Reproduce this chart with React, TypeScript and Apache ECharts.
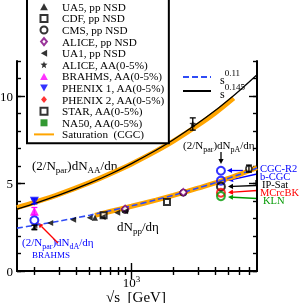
import React, { useEffect, useRef } from 'react';
import * as echarts from 'echarts';

const FONT = "'Liberation Serif', 'Times New Roman', serif";

// ---- data (sqrt(s) in GeV, values per participant pair) ----
const satAAS = [150, 200, 300, 500, 700, 1000, 1500, 2000, 3000, 4000, 5430];
const satAAY = [3.62, 3.92, 4.38, 5.05, 5.55, 6.12, 6.85, 7.42, 8.33, 9.03, 9.88];
const satPPS = [546, 700, 1000, 1500, 2000, 3000, 4000, 5000, 6000, 8000];
const satPPY = [3.18, 3.4, 3.7, 4.05, 4.32, 4.73, 5.03, 5.3, 5.52, 5.9];
const fitS = [150, 200, 300, 500, 700, 1000, 1500, 2000, 3000, 4000, 5000, 6000, 8000];
const fit011Y = [2.45, 2.61, 2.85, 3.19, 3.44, 3.72, 4.07, 4.33, 4.74, 5.04, 5.3, 5.52, 5.88];
const fit0145Y = [3.54, 3.85, 4.33, 5.02, 5.53, 6.14, 6.9, 7.5, 8.44, 9.17, 9.79, 10.32, 11.22];

const ua5S = [200, 546, 900];
const ua5Y = [2.48, 3.05, 3.5];
const cdfS = [630, 1800];
const cdfY = [3.18, 3.94];
const cmsS = [900, 2360, 7000];
const cmsY = [3.48, 4.47, 5.85];
const alicePPS = [900, 2360];
const alicePPY = [3.55, 4.5];
const ua1S = [200, 260, 380, 500, 620, 790, 900];
const ua1Y = [2.62, 2.75, 2.93, 3.04, 3.08, 3.33, 3.42];
const aliceAAS = [2760];
const aliceAAY = [8.4];
const brahmsAAS = [200];
const brahmsAAY = [3.42];
const phenix1S = [200];
const phenix1Y = [3.98];
const phenix2S: number[] = [];
const phenix2Y: number[] = [];
const starS: number[] = [];
const starY: number[] = [];
const na50S: number[] = [];
const na50Y: number[] = [];
const dABrahmsS = [200];
const dABrahmsY = [2.9];

const predS = 4400;
const predNames = ['CGC-R2', 'b-CGC', 'IP-Sat', 'MCrcBK', 'KLN'];
const predY = [5.73, 5.16, 4.82, 4.47, 4.28];

const errS = [200, 200, 200, 2760, 7000];
const errY = [3.98, 3.42, 2.5, 8.4, 5.85];
const errD = [0.14, 0.21, 0.12, 0.35, 0.2];

const minorXTicks = [200, 300, 400, 500, 600, 700, 800, 900, 2000, 3000, 4000, 5000, 6000, 7000];
const majorXTicks = [1000];
const yMajor = [0, 5, 10];

// ---- styles ----
const predColors = ['#0000ff', '#0000ff', '#000000', '#ff0000', '#009900'];
const errColors = ['#0000ff', '#ff00ff', '#000000', '#000000', '#000000'];
const ORANGE = '#ffa500';

const lg = (v: number) => Math.log10(v);
const pts = (xs: number[], ys: number[]) => xs.map((x, i) => [lg(x), ys[i]]);

const STAR_PATH = 'path://M5,0L6.3,3.3L10,3.6L7.1,6L8.1,10L5,7.8L1.9,10L2.9,6L0,3.6L3.7,3.3Z';
const LEFT_TRI = 'path://M0,5L9,0L9,10Z';
const DOWN_TRI = 'path://M0,0L10,0L5,9Z';
const UP_TRI = 'path://M5,0L10,9L0,9Z';
const RECT = 'path://M0,0L10,0L10,10L0,10Z';
const DIAMOND = 'path://M5,0L10,6L5,12L0,6Z';
const CIRCLE = 'path://M10,5A5,5,0,1,1,0,5A5,5,0,1,1,10,5Z';

function arrow(x1: number, y1: number, x2: number, y2: number, color: string) {
  const dx = x2 - x1, dy = y2 - y1;
  const L = Math.sqrt(dx * dx + dy * dy);
  const ux = dx / L, uy = dy / L;
  const hl = 5, hw = 2.6;
  const bx = x2 - ux * hl, by = y2 - uy * hl;
  return {
    type: 'group',
    children: [
      { type: 'line', shape: { x1, y1, x2: bx, y2: by }, style: { stroke: color, lineWidth: 1.3 } },
      {
        type: 'polygon',
        shape: { points: [[x2, y2], [bx - uy * hw, by + ux * hw], [bx + uy * hw, by - ux * hw]] },
        style: { fill: color },
      },
    ],
  };
}

function subText(x: number, y: number, parts: [string, boolean][], size: number, sub: number, color: string) {
  const text = parts.map(([t, s]) => (s ? `{b|${t}}` : `{n|${t}}`)).join('');
  return {
    type: 'text',
    x,
    y,
    style: {
      text,
      fill: color,
      rich: {
        n: { fontSize: size, fontFamily: FONT, verticalAlign: 'top', fill: color },
        b: { fontSize: sub, fontFamily: FONT, verticalAlign: 'bottom', lineHeight: size + 3, fill: color },
      },
    },
  };
}

export default function App() {
  const ref = useRef<HTMLDivElement>(null);
  useEffect(() => {
    const chart = echarts.init(ref.current!, null, { renderer: 'svg' });
    const xr = { min: lg(150), max: lg(8000) };
    const lineAx = { show: true, lineStyle: { color: '#000', width: 2 } };
    const minorTick = { show: true, inside: true, length: 4, customValues: minorXTicks.map(lg), lineStyle: { color: '#000', width: 1.4 } };
    const majorTick = { show: true, inside: true, length: 8, customValues: majorXTicks.map(lg), lineStyle: { color: '#000', width: 1.4 } };
    const xAxes = [
      {
        type: 'value', position: 'bottom', ...xr, axisLine: lineAx, axisTick: minorTick, splitLine: { show: false },
        axisLabel: {
          customValues: majorXTicks.map(lg), margin: 3, formatter: () => '{b|10}{p|3}',
          rich: {
            b: { fontSize: 13, fontFamily: FONT, color: '#000', verticalAlign: 'bottom', lineHeight: 15 },
            p: { fontSize: 9, fontFamily: FONT, color: '#000', verticalAlign: 'top' },
          },
        },
      },
      { type: 'value', position: 'bottom', ...xr, axisLine: { show: false }, axisTick: majorTick, axisLabel: { show: false }, splitLine: { show: false } },
      { type: 'value', position: 'top', ...xr, axisLine: lineAx, axisTick: minorTick, axisLabel: { show: false }, splitLine: { show: false } },
      { type: 'value', position: 'top', ...xr, axisLine: { show: false }, axisTick: majorTick, axisLabel: { show: false }, splitLine: { show: false } },
    ];
    const yr = { min: 0, max: 12 };
    const yMinorTick = { show: true, inside: true, length: 4, lineStyle: { color: '#000', width: 1.4 } };
    const yMajorTick = { show: true, inside: true, length: 8, customValues: yMajor, lineStyle: { color: '#000', width: 1.4 } };
    const yAxes = [
      {
        type: 'value', position: 'left', ...yr, interval: 1, axisLine: lineAx, axisTick: yMinorTick, splitLine: { show: false },
        axisLabel: { customValues: yMajor, fontSize: 13, fontFamily: FONT, color: '#000', margin: 4 },
      },
      { type: 'value', position: 'left', ...yr, axisLine: { show: false }, axisTick: yMajorTick, axisLabel: { show: false }, splitLine: { show: false } },
      { type: 'value', position: 'right', ...yr, interval: 1, axisLine: lineAx, axisTick: yMinorTick, axisLabel: { show: false }, splitLine: { show: false } },
      { type: 'value', position: 'right', ...yr, axisLine: { show: false }, axisTick: yMajorTick, axisLabel: { show: false }, splitLine: { show: false } },
    ];

    const scatter = (name: string, xs: number[], ys: number[], symbol: string, size: number, itemStyle: any, z = 4) => ({
      name, type: 'scatter', data: pts(xs, ys), symbol, symbolSize: size, itemStyle, z,
    });

    const hideSym = { opacity: 0 };
    const legendNames = [
      'UA5, pp NSD', 'CDF, pp NSD', 'CMS, pp NSD', 'ALICE, pp NSD', 'UA1, pp NSD', 'ALICE, AA(0-5%)',
      'BRAHMS, AA(0-5%)', 'PHENIX 1, AA(0-5%)', 'PHENIX 2, AA(0-5%)', 'STAR, AA(0-5%)', 'NA50, AA(0-5%)',
    ];

    const option: any = {
      animation: false,
      grid: { left: 17, right: 43, top: 61, bottom: 32, outerBoundsMode: 'none' },
      xAxis: xAxes,
      yAxis: yAxes,
      legend: [
        {
          orient: 'vertical', left: 27, top: -3, itemWidth: 20, itemHeight: 7, itemGap: 0,
          padding: [4, 4, 3, 6], backgroundColor: '#fff', borderColor: '#000', borderWidth: 2,
          selectedMode: false, z: 10,
          textStyle: { fontFamily: FONT, fontSize: 11.2, lineHeight: 11.6, color: '#000', padding: [0, 0, 0, 3] },
          data: [...legendNames, { name: 'Saturation  (CGC)', itemStyle: hideSym }],
        },
        {
          orient: 'vertical', left: 182, top: 68, itemWidth: 28, itemHeight: 8, itemGap: -4, padding: 0,
          selectedMode: false,
          data: [{ name: 'fit011', itemStyle: hideSym }, { name: 'fit0145', itemStyle: hideSym }],
          formatter: (n: string) => (n === 'fit011' ? '{s|s}{p|0.11}' : '{s|s}{p|0.145}'),
          textStyle: {
            padding: [0, 0, 0, 4],
            rich: {
              s: { fontSize: 12, fontFamily: FONT, color: '#000', verticalAlign: 'bottom', lineHeight: 18 },
              p: { fontSize: 9, fontFamily: FONT, color: '#000', verticalAlign: 'top' },
            },
          },
        },
      ],
      series: [
        { name: 'Saturation  (CGC)', type: 'line', data: pts(satAAS, satAAY), symbol: 'none', smooth: 0.3, lineStyle: { color: ORANGE, width: 5 }, itemStyle: { color: ORANGE }, z: 2 },
        { name: 'Saturation  (CGC)', type: 'line', data: pts(satPPS, satPPY), symbol: 'none', smooth: 0.3, lineStyle: { color: ORANGE, width: 5 }, itemStyle: { color: ORANGE }, z: 2 },
        { name: 'fit011', type: 'line', data: pts(fitS, fit011Y), symbol: 'none', smooth: 0.3, lineStyle: { color: '#2f4bf5', width: 1.6, type: [6, 3] }, itemStyle: { color: '#2f4bf5' }, z: 3 },
        { name: 'fit0145', type: 'line', data: pts(fitS, fit0145Y), symbol: 'none', smooth: 0.3, lineStyle: { color: '#000', width: 1.3 }, itemStyle: { color: '#000' }, z: 3 },
        scatter('UA5, pp NSD', ua5S, ua5Y, UP_TRI, 6, { color: '#000' }),
        scatter('CDF, pp NSD', cdfS, cdfY, RECT, 6, { color: '#fff', borderColor: '#000', borderWidth: 2 }),
        scatter('CMS, pp NSD', cmsS, cmsY, CIRCLE, 6, { color: '#fff', borderColor: '#000', borderWidth: 1.6 }),
        scatter('ALICE, pp NSD', alicePPS, alicePPY, DIAMOND, 7, { color: '#fff', borderColor: '#800080', borderWidth: 1.6 }),
        scatter('UA1, pp NSD', ua1S, ua1Y, LEFT_TRI, 6, { color: '#000' }),
        scatter('ALICE, AA(0-5%)', aliceAAS, aliceAAY, STAR_PATH, 7, { color: '#000' }),
        scatter('PHENIX 2, AA(0-5%)', phenix2S, phenix2Y, DIAMOND, 8, { color: '#ff0000' }),
        scatter('STAR, AA(0-5%)', starS, starY, RECT, 7, { color: '#fff', borderColor: '#000', borderWidth: 1.4 }),
        scatter('NA50, AA(0-5%)', na50S, na50Y, RECT, 7, { color: '#008000' }),
        scatter('BRAHMS, AA(0-5%)', brahmsAAS, brahmsAAY, UP_TRI, 9, { color: '#ff00ff' }),
        scatter('PHENIX 1, AA(0-5%)', phenix1S, phenix1Y, DOWN_TRI, 9, { color: '#0000ff' }),
        scatter('dA BRAHMS', dABrahmsS, dABrahmsY, 'circle', 8, { color: '#fff', borderColor: '#0000ff', borderWidth: 2 }, 5),
        {
          name: 'pred', type: 'scatter', z: 5, symbol: 'circle', symbolSize: 8,
          data: predY.map((y, i) => ({ value: [lg(predS), y], itemStyle: { color: 'rgba(0,0,0,0)', borderColor: predColors[i], borderWidth: 2 } })),
        },
        {
          name: 'err', type: 'custom', z: 6,
          data: errS.map((x, i) => [lg(x), errY[i], errD[i], i]),
          renderItem: (params: any, api: any) => {
            const x = api.value(0), y = api.value(1), e = api.value(2), i = api.value(3);
            const t = api.coord([x, y + e]);
            const b = api.coord([x, y - e]);
            const st = { stroke: errColors[i], lineWidth: 1.3 };
            const w = 3;
            return {
              type: 'group',
              children: [
                { type: 'line', shape: { x1: t[0], y1: t[1], x2: b[0], y2: b[1] }, style: st },
                { type: 'line', shape: { x1: t[0] - w, y1: t[1], x2: t[0] + w, y2: t[1] }, style: st },
                { type: 'line', shape: { x1: b[0] - w, y1: b[1], x2: b[0] + w, y2: b[1] }, style: st },
              ],
            };
          },
        },
      ],
      graphic: [
        subText(32, 158.5, [['(2/N', false], ['par', true], [')dN', false], ['AA', true], ['/dη', false]], 13, 9, '#000'),
        subText(117, 219.5, [['dN', false], ['pp', true], ['/dη', false]], 13, 9, '#000'),
        subText(22, 236.5, [['(2/N', false], ['par', true], [')dN', false], ['dA', true], ['/dη', false]], 11, 8, '#0000ff'),
        { type: 'text', x: 32, y: 255, style: { text: 'BRAHMS', fill: '#0000ff', fontSize: 9, fontFamily: FONT, verticalAlign: 'middle' } },
        subText(183, 139.5, [['(2/N', false], ['par', true], [')dN', false], ['pA', true], ['/dη', false]], 11, 8, '#000'),
        ...predNames.map((n, i) => ({
          type: 'text', x: [260, 260, 262, 260, 263][i], y: [168, 176, 184, 192.5, 200][i],
          style: { text: n, fill: predColors[i], fontSize: 10.5, lineHeight: 8, fontFamily: FONT, verticalAlign: 'middle' },
        })),
        { type: 'text', x: 106, y: 296.5, style: { text: '√s  [GeV]', fill: '#000', fontSize: 15, fontFamily: FONT, verticalAlign: 'middle' } },
        arrow(221, 152, 221, 164, '#000'),
        arrow(243, 170.5, 227, 170.5, '#0000ff'),
        arrow(257, 174, 228, 180.5, '#0000ff'),
        { type: 'line', shape: { x1: 256, y1: 180, x2: 256, y2: 185.5 }, style: { stroke: '#000', lineWidth: 1.3 } },
        arrow(256, 185.5, 228, 186.5, '#000'),
        arrow(257, 190.5, 228, 192.5, '#ff0000'),
        arrow(257, 198.5, 228, 197, '#009900'),
        arrow(58, 243, 38, 223, '#ff0000'),
      ],
    };
    chart.setOption(option);
    return () => chart.dispose();
  }, []);
  return <div ref={ref} style={{ position: 'fixed', left: 0, top: 0, width: 300, height: 303 }} />;
}
